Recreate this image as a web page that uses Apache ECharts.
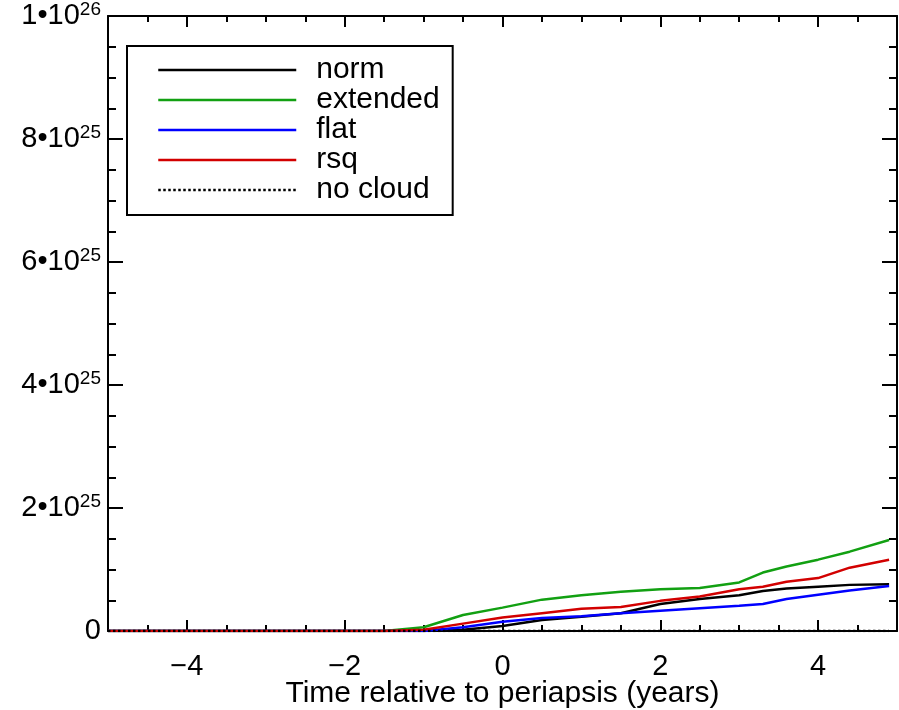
<!DOCTYPE html>
<html>
<head>
<meta charset="utf-8">
<script src="https://cdn.jsdelivr.net/npm/echarts@6/dist/echarts.min.js"></script>
<style>
html,body{margin:0;padding:0;background:#fff;}
#chart{width:899px;height:710px;}
</style>
</head>
<body>
<div id="chart"></div>
<script>
// time relative to periapsis (years)
const times = [-5, -1.5, -1.0, -0.5, 0, 0.5, 1.0, 1.5, 2.0, 2.5, 3.0, 3.3, 3.6, 4.0, 4.4, 4.9];
// values in units of 1e25
const norm     = [0, 0, 0,    0.02, 0.08, 0.18, 0.23, 0.29, 0.44, 0.52, 0.58, 0.65, 0.69, 0.72, 0.75, 0.76];
const extended = [0, 0, 0.06, 0.26, 0.38, 0.51, 0.58, 0.64, 0.68, 0.70, 0.79, 0.95, 1.05, 1.16, 1.29, 1.48];
const flat     = [0, 0, 0,    0.06, 0.15, 0.21, 0.24, 0.29, 0.33, 0.37, 0.41, 0.44, 0.52, 0.59, 0.66, 0.73];
const rsq      = [0, 0, 0.02, 0.12, 0.22, 0.29, 0.36, 0.39, 0.49, 0.56, 0.68, 0.72, 0.80, 0.86, 1.03, 1.16];
const noCloud  = [0, 0, 0,    0,    0,    0,    0,    0,    0,    0,    0,    0,    0,    0,    0,    0];
const seriesNames = ['norm', 'extended', 'flat', 'rsq', 'no cloud'];
const xTickLabels = [-4, -2, 0, 2, 4];
const yTickValues = [0, 2, 4, 6, 8, 10];

const FONT = 'Liberation Sans';
const pair = arr => times.map((t, i) => [t, arr[i]]);

function yLabel(v) {
  if (v === 0) return '{m|0}';
  if (v === 10) return '{m|1\u202210}{s|26}';
  return '{m|' + v + '\u202210}{s|25}';
}

const chart = echarts.init(document.getElementById('chart'), null, {renderer: 'canvas'});
const axisLine = {show: true, onZero: false, lineStyle: {color: '#000', width: 2}};
const xCommon = {
  type: 'value', min: -5, max: 5, splitNumber: 5,
  axisLine: axisLine,
  axisTick: {show: true, inside: true, length: 11, lineStyle: {color: '#000', width: 2}, customValues: xTickLabels},
  minorTick: {show: true, splitNumber: 4, length: 6, lineStyle: {color: '#000', width: 2}},
  splitLine: {show: false}
};
const yCommon = {
  type: 'value', min: 0, max: 10, interval: 2,
  axisLine: axisLine,
  axisTick: {show: true, inside: true, length: 15, lineStyle: {color: '#000', width: 2}, customValues: yTickValues},
  minorTick: {show: true, splitNumber: 4, length: 8, lineStyle: {color: '#000', width: 2}},
  splitLine: {show: false}
};
const option = {
  backgroundColor: '#fff',
  animation: false,
  grid: {left: 108, right: 2, top: 16, bottom: 79, containLabel: false, outerBoundsMode: 'none'},
  legend: {
    orient: 'vertical',
    left: 127, top: 46,
    padding: [9, 13, 10, 30],
    borderColor: '#000', borderWidth: 2,
    itemWidth: 138, itemHeight: 14, itemGap: 0,
    data: seriesNames,
    itemStyle: {opacity: 0},
    lineStyle: {width: 2.5},
    textStyle: {fontFamily: FONT, fontSize: 30, color: '#000', lineHeight: 30, padding: [0, 0, 0, 15]}
  },
  xAxis: [Object.assign({}, xCommon, {
    position: 'bottom',
    axisLabel: {customValues: xTickLabels, margin: 21, fontFamily: FONT, fontSize: 29, color: '#000',
      formatter: v => String(v).replace('-', '\u2212')},
    name: 'Time relative to periapsis (years)', nameLocation: 'middle', nameGap: 48,
    nameMoveOverlap: false,
    nameTextStyle: {fontFamily: FONT, fontSize: 30, color: '#000', verticalAlign: 'top'}
  }), Object.assign({}, xCommon, {
    position: 'top',
    axisLabel: {show: false}
  })],
  yAxis: [Object.assign({}, yCommon, {
    position: 'left',
    axisLabel: {
      customValues: yTickValues,
      margin: 7, color: '#000', formatter: yLabel,
      rich: {
        m: {fontFamily: FONT, fontSize: 29, color: '#000', lineHeight: 32, verticalAlign: 'middle'},
        s: {fontFamily: FONT, fontSize: 19, color: '#000', lineHeight: 19, verticalAlign: 'top'}
      }
    }
  }), Object.assign({}, yCommon, {
    position: 'right',
    axisLabel: {show: false}
  })],
  series: [
    {name: 'norm', data: pair(norm), color: '#000000'},
    {name: 'extended', data: pair(extended), color: '#12a012'},
    {name: 'flat', data: pair(flat), color: '#0000ff'},
    {name: 'rsq', data: pair(rsq), color: '#d20000'},
    {name: 'no cloud', data: pair(noCloud), color: '#000000', lineType: 'dotted'}
  ].map(s => ({
    type: 'line', name: s.name, data: s.data, xAxisIndex: 0, yAxisIndex: 0,
    symbol: 'none', showSymbol: false, smooth: false,
    lineStyle: {color: s.color, width: 2.5, type: s.lineType || 'solid'},
    itemStyle: {color: s.color}
  }))
};
chart.setOption(option);
</script>
</body>
</html>
